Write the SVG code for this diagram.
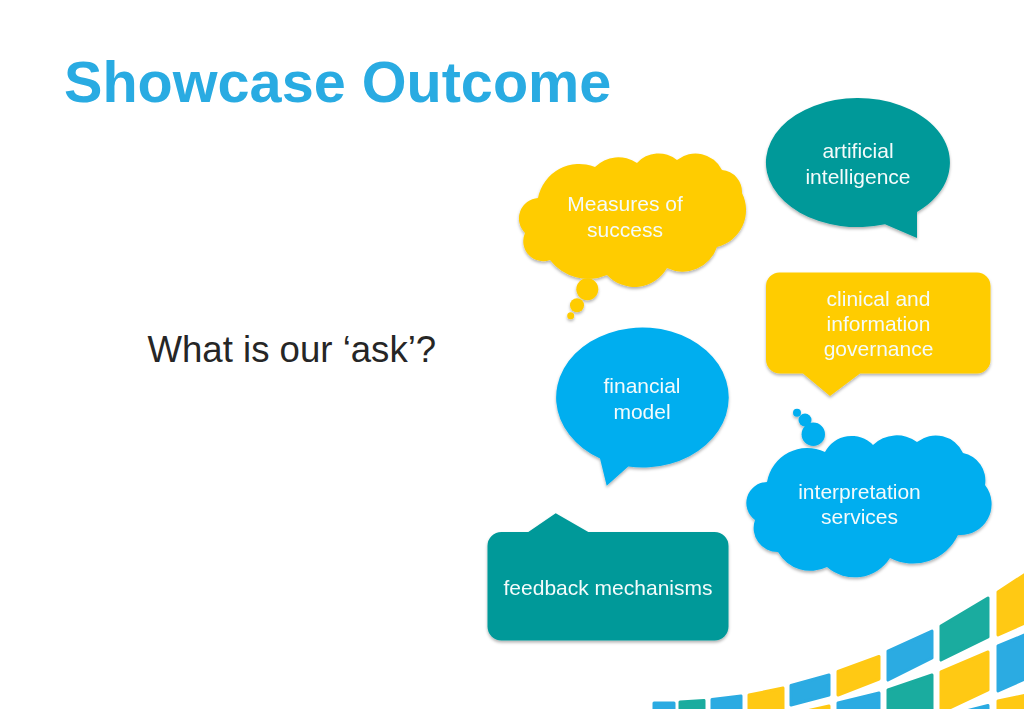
<svg xmlns="http://www.w3.org/2000/svg" width="1024" height="709" viewBox="0 0 1024 709">
<defs>
<filter id="sh" x="-10%" y="-10%" width="120%" height="125%"><feDropShadow dx="0" dy="2" stdDeviation="1.6" flood-color="#000" flood-opacity="0.3"/></filter>
</defs>
<style>
text{font-family:"Liberation Sans",Arial,sans-serif}
.t{font-size:21px;fill:#f4fbfb;text-anchor:middle}
.y{fill:#ffcc00}.b{fill:#00aeef}.g{fill:#009999}
.ty{fill:#ffc914;stroke:#ffc914}.tb{fill:#2babe2;stroke:#2babe2}.tg{fill:#1aac9f;stroke:#1aac9f}
#tiles polygon{stroke-width:3;stroke-linejoin:round}
</style>
<rect width="1024" height="709" fill="#fff"/>
<text id="title" x="64" y="102" font-size="57.600" font-weight="700" fill="#29abe2">Showcase Outcome</text>
<text id="ask" x="147.500" y="361.500" font-size="36.600" fill="#262626">What is our ‘ask’?</text>
<g id="artificial-intelligence" filter="url(#sh)">
<path class="g" d="M885 224.200A92 64.500 0 1 1 917 212L917 238Z"/>
<text class="t" x="858" y="158">artificial</text><text class="t" x="858" y="183.500">intelligence</text>
</g>
<g id="measures-of-success" filter="url(#sh)">
<path class="y" d="M538 198A20.500 20.500 0 0 0 525 233A20 20 0 0 0 550 260A48 48 0 0 0 607 275A37.500 37.500 0 0 0 667 268A36 36 0 0 0 717 247A38 38 0 0 0 742 193A22 22 0 0 0 722 170A29.500 29.500 0 0 0 677 160A29 29 0 0 0 637 163A33 33 0 0 0 595 167A42 42 0 0 0 538 198Z"/>
<circle class="y" cx="587.300" cy="289.300" r="11"/><circle class="y" cx="577" cy="305.300" r="7"/><circle class="y" cx="570.700" cy="315.700" r="3.500"/>
<text class="t" x="625" y="211">Measures of</text><text class="t" x="625" y="236.500">success</text>
</g>
<g id="clinical-governance" filter="url(#sh)">
<path class="y" d="M780 272.500H977A13.500 13.500 0 0 1 990.500 286V360A13.500 13.500 0 0 1 977 373.500H860L830 396L803 373.500H780A14 14 0 0 1 766 359.500V286A13.500 13.500 0 0 1 780 272.500Z"/>
<text class="t" x="878.500" y="305.500">clinical and</text><text class="t" x="878.500" y="331">information</text><text class="t" x="878.500" y="356">governance</text>
</g>
<g id="financial-model" filter="url(#sh)">
<path class="b" d="M600 458.500A86.300 70 0 1 1 628.300 466.600L606.700 485.700Z"/>
<text class="t" x="642" y="393">financial</text><text class="t" x="642" y="418.500">model</text>
</g>
<g id="interpretation-services" filter="url(#sh)">
<path class="b" d="M767 482A21 21 0 0 0 755 520A24 24 0 0 0 778 552A37.500 37.500 0 0 0 827 567A42 42 0 0 0 890 558A50 50 0 0 0 958 535A31 31 0 0 0 985 485A28 28 0 0 0 963 453A30 30 0 0 0 917 442A34 34 0 0 0 873 445A30 30 0 0 0 825 452A41 41 0 0 0 767 482Z"/>
<circle class="b" cx="813.300" cy="434.300" r="11.700"/><circle class="b" cx="805" cy="420" r="6.500"/><circle class="b" cx="797" cy="412.700" r="4"/>
<text class="t" x="859.500" y="499">interpretation</text><text class="t" x="859.500" y="524">services</text>
</g>
<g id="feedback-mechanisms" filter="url(#sh)">
<path class="g" d="M528.300 532L555.700 513.300L588.300 532H714.500A14 14 0 0 1 728.500 546V626.500A14 14 0 0 1 714.500 640.500H501.500A14 14 0 0 1 487.500 626.500V546A14 14 0 0 1 501.500 532Z"/>
<text class="t" x="608" y="595">feedback mechanisms</text>
</g>
<g id="tiles">
<polygon class="tb" points="654,703 674,703 674,712 654,712"/>
<polygon class="tg" points="680,702 704,700.500 704,712 680,712"/>
<polygon class="tb" points="712,699.500 741,696 741,712 712,712"/>
<polygon class="ty" points="749,695 783,688 783,712 749,712"/>
<polygon class="tb" points="791,685.500 829,675 829,695 791,705"/>
<polygon class="ty" points="838,671.500 879,656.500 879,679 838,695"/>
<polygon class="tb" points="888,651 932,631 932,658 888,680"/>
<polygon class="tg" points="941,626 988,598 988,637 941,660"/>
<polygon class="ty" points="998,592 1027,573 1027,622 998,635"/>
<polygon class="ty" points="802,712 829,706 829,712 802,712"/>
<polygon class="tb" points="838,703 879,693 879,712 838,712"/>
<polygon class="tg" points="888,690 932,675 932,712 888,712"/>
<polygon class="ty" points="941,672 988,652 988,690 941,712"/>
<polygon class="tb" points="998,646 1027,634 1027,678 998,691"/>
<polygon class="tb" points="962,712 988,705.500 988,712 962,712"/>
<polygon class="ty" points="998,701 1027,695 1027,712 998,712"/>
</g>
</svg>
